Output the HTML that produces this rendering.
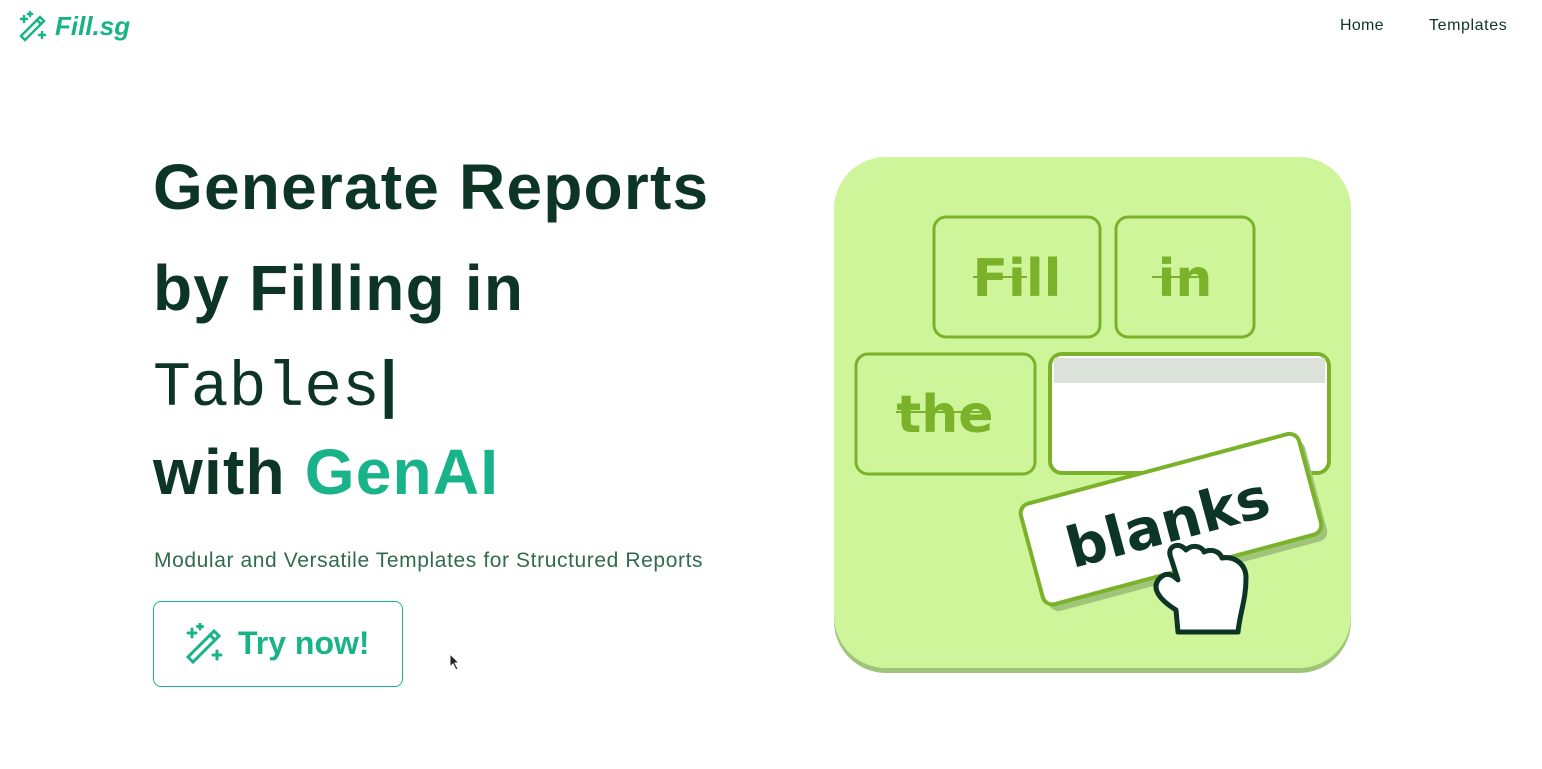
<!DOCTYPE html>
<html><head><meta charset="utf-8"><style>
body{margin:0;width:1542px;height:769px;background:#fff;position:relative;overflow:hidden;font-family:"Liberation Sans",sans-serif}
.a{position:absolute;white-space:nowrap}
.h{font-weight:bold;font-size:64px;color:#0d3526;left:153px;letter-spacing:1.2px}
</style></head><body>
<div class="a" style="left:18px;top:10px;height:32px;">
<svg width="30" height="32" style="position:absolute;left:0;top:0"><g stroke="#19b38a" stroke-width="2.5" fill="none" stroke-linecap="round"><path d="M3 26 L22 7 L26 11 L7 30 Z"/><path d="M19 10 L23 14"/><path d="M6 6 v6 M3 9 h6 M12 2 v4 M10 4 h4 M24 22 v6 M21 25 h6"/></g></svg>
<span class="a" style="left:37px;top:1px;font-size:26px;font-weight:bold;font-style:italic;color:#19b38a">Fill.sg</span></div>
<div class="a" style="left:1340px;top:17px;font-size:16px;color:#0d3526;letter-spacing:0.3px">Home</div>
<div class="a" style="left:1429px;top:17px;font-size:16px;color:#0d3526;letter-spacing:0.6px">Templates</div>
<div class="a h" style="top:150px">Generate Reports</div>
<div class="a h" style="top:251px">by Filling in</div>
<div class="a" style="left:153px;top:348px;font-family:'Liberation Mono',monospace;font-size:63px;color:#0d3526">Tables<span style="font-family:'Liberation Sans';font-weight:bold">|</span></div>
<div class="a h" style="top:435px">with <span style="color:#19b38a">GenAI</span></div>
<div class="a" style="left:154px;top:549px;font-size:21px;color:#2f6b4c;letter-spacing:0.6px">Modular and Versatile Templates for Structured Reports</div>
<div class="a" style="left:153px;top:601px;width:248px;height:84px;border:1.5px solid #19b38a;border-radius:8px;">
<svg width="42" height="42" style="position:absolute;left:30px;top:21px"><g stroke="#19b38a" stroke-width="3" fill="none" stroke-linecap="round"><path d="M4 34 L30 8 L35 13 L9 39 Z"/><path d="M26 12 L31 17"/><path d="M8 6 v8 M4 10 h8 M16 1 v5 M13.5 3.5 h5 M33 28 v8 M29 32 h8"/></g></svg>
<span class="a" style="left:84px;top:23px;font-size:32px;font-weight:bold;color:#19b38a">Try now!</span></div>
<svg class="a" style="left:0;top:0" width="1542" height="769">
<rect x="834" y="162" width="517" height="511" rx="52" fill="#9fc47a"/>
<rect x="834" y="157" width="517" height="511" rx="52" fill="#cff59b"/>
<g fill="none" stroke="#7ab22a" stroke-width="3">
<rect x="934" y="217" width="166" height="120" rx="12"/>
<rect x="1116" y="217" width="138" height="120" rx="12"/>
<rect x="856" y="354" width="179" height="120" rx="12"/>
</g>
<rect x="1050" y="354" width="279" height="119" rx="12" fill="#fff" stroke="#7ab22a" stroke-width="4"/>
<rect x="1054" y="358" width="271" height="25" fill="#dbe2d9"/>
<g font-family="'DejaVu Sans',sans-serif" font-weight="bold" font-size="52" fill="#7ab22a" text-anchor="middle">
<text x="1017" y="296">Fill</text><text x="1185" y="296">in</text><text x="945" y="432">the</text></g>
<g stroke="#7ab22a" stroke-width="2"><path d="M973 277 h54 M1152 277 h47 M896 412 h93"/></g>
<g transform="translate(1172,523) rotate(-15)">
<rect x="-140" y="-48" width="288" height="104" rx="10" fill="#9fc47a"/>
<rect x="-144" y="-56" width="288" height="104" rx="10" fill="#fff" stroke="#7ab22a" stroke-width="4"/>
<text x="-4" y="18" text-anchor="middle" font-family="'DejaVu Sans',sans-serif" font-weight="bold" font-size="56" fill="#0d3526">blanks</text></g>
<path d="M1178 632 L1176 610 C1160 600 1150 588 1160 578 C1166 572 1172 574 1178 580 L1170 555 C1168 545 1180 542 1186 550 C1192 544 1202 546 1204 552 C1212 548 1220 552 1222 558 C1232 556 1246 562 1246 578 C1246 600 1240 612 1238 632 Z" fill="#fff" stroke="#0d3526" stroke-width="5" stroke-linejoin="round"/>
</svg>
<svg class="a" style="left:449px;top:653px" width="12" height="18"><path d="M1 1 L1 14 L4 11 L7 17 L9 16 L6 10 L10 10 Z" fill="#222" stroke="#fff" stroke-width="1"/></svg>
</body></html>
